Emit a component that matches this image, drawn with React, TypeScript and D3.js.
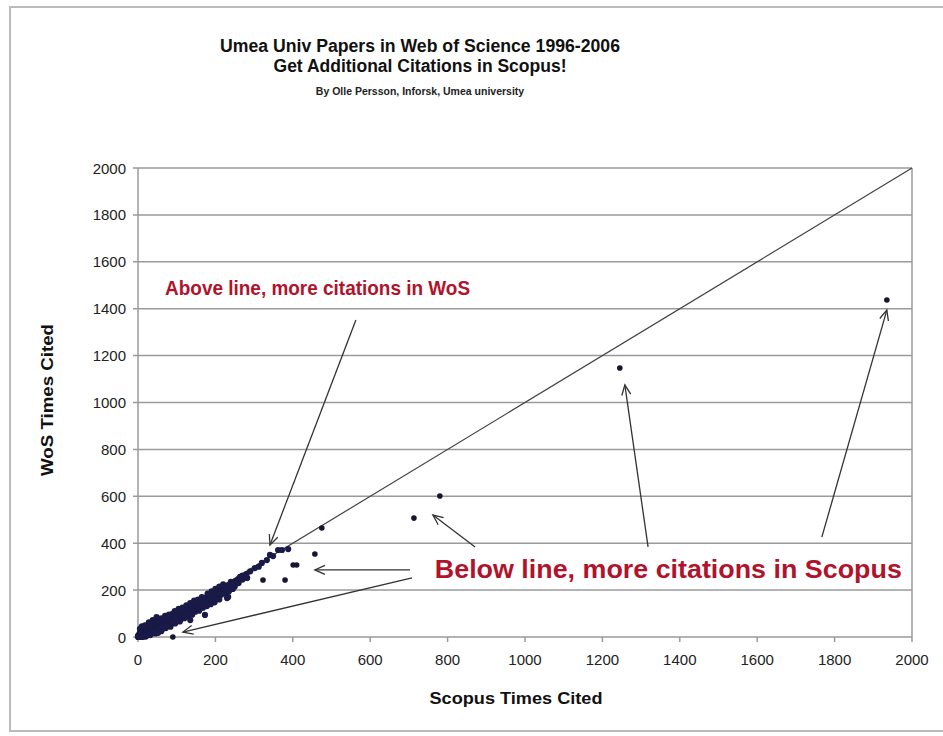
import React from "react";
import * as d3 from "d3";

const titleLines = [
  "Umea Univ Papers in Web of Science 1996-2006",
  "Get Additional Citations in Scopus!",
];
const subtitle = "By Olle Persson, Inforsk, Umea university";
const xLabel = "Scopus Times Cited";
const yLabel = "WoS Times Cited";
const xTicks = [0, 200, 400, 600, 800, 1000, 1200, 1400, 1600, 1800, 2000];
const yTicks = [0, 200, 400, 600, 800, 1000, 1200, 1400, 1600, 1800, 2000];

// [Scopus times cited, WoS times cited]
const clusterPoints: [number, number][] = [
  [0,0],[0,5],[1,2],[2,0],[2,8],[3,3],[4,1],[4,12],[5,5],[5,20],[6,2],[6,9],[7,7],[8,4],[8,15],[9,9],[10,6],[10,25],[11,11],[12,8],[12,18],[13,13],[14,10],[15,15],[15,30],[16,12],[17,17],[18,14],[18,28],[19,19],[20,16],[20,40],[21,21],[22,18],[23,23],[24,20],[25,25],[25,45],[26,22],[27,27],[28,24],[28,38],[29,29],[30,26],[30,12],[31,31],[32,28],[33,33],[34,30],[35,35],[35,55],[36,32],[37,37],[38,34],[39,39],[40,36],[40,20],[41,41],[42,38],[43,43],[44,40],[45,45],[45,28],[46,42],[47,47],[48,44],[49,49],[50,46],[50,75],[51,51],[52,48],[54,52],[55,50],[55,35],[56,55],[58,54],[60,58],[60,40],[60,80],[62,60],[63,57],[65,63],[66,62],[68,65],[70,68],[70,45],[72,66],[73,71],[75,72],[76,68],[78,75],[80,76],[80,58],[82,80],[84,78],[85,83],[86,62],[88,84],[90,86],[90,100],[92,88],[94,90],[95,82],[96,93],[98,94],[100,96],[100,72],[102,98],[104,100],[105,92],[107,103],[110,105],[110,85],[112,108],[114,110],[115,100],[117,113],[120,115],[120,95],[122,118],[125,120],[126,108],[128,123],[130,125],[132,115],[134,130],[135,72],[136,128],[138,133],[140,135],[140,112],[143,138],[145,140],[146,125],[148,142],[150,145],[152,132],[155,150],[157,138],[160,154],[162,148],[165,158],[167,130],[170,163],[172,155],[175,168],[173,94],[178,170],[180,160],[182,174],[185,178],[188,165],[190,182],[192,176],[195,186],[198,180],[200,190],[202,172],[205,195],[208,188],[210,200],[212,185],[215,205],[218,196],[220,210],[222,198],[225,214],[230,166],[228,205],[232,220],[235,212],[240,228],[245,222],[250,236],[255,240],[260,248],[265,256],[270,262],[282,252],[264,256],[251,235],[233,171],[290,280],[302,294],[312,300],[320,316],[333,328],[341,350],[349,345],[362,371],[372,371],[388,375],
  [5,35],[10,45],[15,5],[20,2],[25,10],[30,50],[35,15],[40,60],[45,15],[50,30],[55,70],[60,25],[65,45],[70,90],[75,50],[80,95],[85,55],[90,65],[95,110],[100,80],[105,120],[110,75],[115,125],[120,80],[125,135],[130,100],[135,145],[140,95],[145,155],[150,118],[155,160],[160,120],[165,170],[170,135],[175,140],[180,185],[185,150],[190,195],[195,160],[200,205],[205,165],[210,215],[215,180],[220,225],[225,185],[235,195],[240,235],[245,205],[250,215],[260,230],[270,245],[280,268],
  [18,50],[28,62],[38,72],[48,85],[12,0],[22,5],[32,8],[42,22],[52,18],[62,32],[72,38],[84,44],[96,58],[108,66],[118,88],[128,90],[138,105],[148,108],[158,112],[168,125],[178,132],[188,140],[198,148],[210,160]
];
const outlierPoints: [number, number][] = [
  [90,0],[323,243],[380,243],[401,307],[410,307],[457,354],[475,465],[713,507],[780,601],[1245,1147],[1935,1437]
];

// annotation arrows in data coordinates: [fromX, fromY, toX, toY]
const arrows: [number, number, number, number][] = [
  [563, 1352, 341, 392],
  [703, 286, 457, 286],
  [708, 252, 116, 21],
  [871, 384, 762, 520],
  [1318, 384, 1258, 1075],
  [1767, 426, 1935, 1394],
];
const noteAbove = { text: "Above line, more citations in WoS", x: 70, y: 1458 };
const noteBelow = { text: "Below line, more citations in Scopus", x: 767, y: 252 };

const W = 943, H = 736;
const FONT = "Arial, 'Liberation Sans', Helvetica, sans-serif";
const RED = "#b0132b";

export default function App() {
  const x = d3.scaleLinear().domain([0, 2000]).range([138, 912]);
  const y = d3.scaleLinear().domain([0, 2000]).range([637, 168]);
  const diag = d3.line<number>().x((v) => x(v)).y((v) => y(v));

  const arrowEls = arrows.map(([fx, fy, tx, ty], i) => {
    const x1 = x(fx), y1 = y(fy), x2 = x(tx), y2 = y(ty);
    const a = Math.atan2(y1 - y2, x1 - x2);
    const L = 11, s = 0.42;
    const h1 = [x2 + L * Math.cos(a + s), y2 + L * Math.sin(a + s)];
    const h2 = [x2 + L * Math.cos(a - s), y2 + L * Math.sin(a - s)];
    return (
      <g key={i} stroke="#333" strokeWidth={1.3} fill="none">
        <line x1={x1} y1={y1} x2={x2} y2={y2} />
        <polyline points={`${h1[0]},${h1[1]} ${x2},${y2} ${h2[0]},${h2[1]}`} />
      </g>
    );
  });

  return (
    <svg width={W} height={H} style={{ position: "absolute", left: 0, top: 0, background: "#fff" }} fontFamily={FONT}>
      <rect x={10} y={7} width={940} height={724} fill="#fff" stroke="#bbb" strokeWidth={2} />
      <text x={420} y={52} textAnchor="middle" fontSize={17.5} fontWeight="bold" fill="#111" textLength={400} lengthAdjust="spacingAndGlyphs">{titleLines[0]}</text>
      <text x={420} y={72} textAnchor="middle" fontSize={17.5} fontWeight="bold" fill="#111">{titleLines[1]}</text>
      <text x={420} y={95} textAnchor="middle" fontSize={10.5} fontWeight="bold" fill="#222">{subtitle}</text>

      {/* gridlines */}
      {yTicks.map((t) => (
        <g key={"gy" + t}>
          <line x1={x(0) - 5} x2={x(2000)} y1={y(t)} y2={y(t)} stroke="#9a9a9a" strokeWidth={1.5} />
          <text x={x(0) - 12} y={y(t) + 5.5} textAnchor="end" fontSize={15} fill="#222">{t}</text>
        </g>
      ))}
      <line x1={x(0)} x2={x(0)} y1={y(2000)} y2={y(0)} stroke="#9a9a9a" strokeWidth={1.5} />
      <line x1={x(2000)} x2={x(2000)} y1={y(2000)} y2={y(0)} stroke="#9a9a9a" strokeWidth={1.5} />
      {xTicks.map((t) => (
        <g key={"gx" + t}>
          <line x1={x(t)} x2={x(t)} y1={y(0)} y2={y(0) + 5} stroke="#9a9a9a" strokeWidth={1.5} />
          <text x={x(t)} y={y(0) + 28} textAnchor="middle" fontSize={15} fill="#222">{t}</text>
        </g>
      ))}

      {/* y = x line */}
      <path d={diag([0, 2000]) || ""} stroke="#444" strokeWidth={1.2} fill="none" />

      {clusterPoints.map(([sx, wy], i) => (
        <circle key={"c" + i} cx={x(sx)} cy={y(wy)} r={3.1} fill="#1a1a48" />
      ))}
      {outlierPoints.map(([sx, wy], i) => (
        <circle key={"o" + i} cx={x(sx)} cy={y(wy)} r={2.8} fill="#161630" />
      ))}

      {arrowEls}

      <text x={x(noteAbove.x)} y={y(noteAbove.y)} fontSize={21} fontWeight="bold" fill={RED} textLength={305} lengthAdjust="spacingAndGlyphs">{noteAbove.text}</text>
      <text x={x(noteBelow.x)} y={y(noteBelow.y)} fontSize={25} fontWeight="bold" fill={RED} textLength={467} lengthAdjust="spacingAndGlyphs">{noteBelow.text}</text>

      <text x={516} y={704} textAnchor="middle" fontSize={16.5} fontWeight="bold" fill="#111" textLength={173} lengthAdjust="spacingAndGlyphs">{xLabel}</text>
      <text transform={`translate(53,400) rotate(-90)`} textAnchor="middle" fontSize={16.5} fontWeight="bold" fill="#111" textLength={152} lengthAdjust="spacingAndGlyphs">{yLabel}</text>
    </svg>
  );
}
